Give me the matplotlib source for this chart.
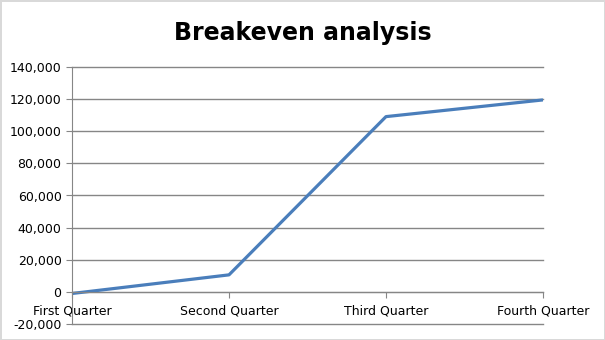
import matplotlib.pyplot as plt
from matplotlib.ticker import FuncFormatter

quarters = ['First Quarter', 'Second Quarter', 'Third Quarter', 'Fourth Quarter']
values = [-1000, 10600, 109100, 119500]
y_ticks = list(range(-20000, 140001, 20000))

fig = plt.figure(figsize=(6.05, 3.4), dpi=100)
fig.patch.set_edgecolor('#d9d9d9')
fig.patch.set_linewidth(2)
ax = fig.add_axes([0.119, 0.047, 0.7785, 0.756])

x = range(len(quarters))
ax.plot(x, values, color='#4a7ebb', linewidth=2.3, solid_capstyle='butt')

ax.set_xlim(0, len(quarters) - 1)
ax.set_ylim(-20000, 140000)
ax.set_yticks(y_ticks)
ax.yaxis.set_major_formatter(FuncFormatter(lambda v, p: f'{int(v):,}'))
ax.set_xticks(list(x))
ax.set_xticklabels(quarters)

ax.grid(axis='y', color='#868686', linewidth=1)
for gl in ax.get_ygridlines():
    gl.set_clip_on(False)
ax.set_axisbelow(True)
for s in ['top', 'right']:
    ax.spines[s].set_visible(False)
ax.spines['left'].set_color('#868686')
ax.spines['bottom'].set_color('#868686')
ax.spines['bottom'].set_position(('data', 0))
ax.tick_params(axis='both', colors='#868686', labelcolor='black', labelsize=9, length=4)
ax.tick_params(axis='x', pad=5)

fig.text(0.5, 0.903, 'Breakeven analysis', ha='center', va='center',
         fontsize=17, fontweight='bold')

fig.savefig('out.png', dpi=100, edgecolor=fig.get_edgecolor())
